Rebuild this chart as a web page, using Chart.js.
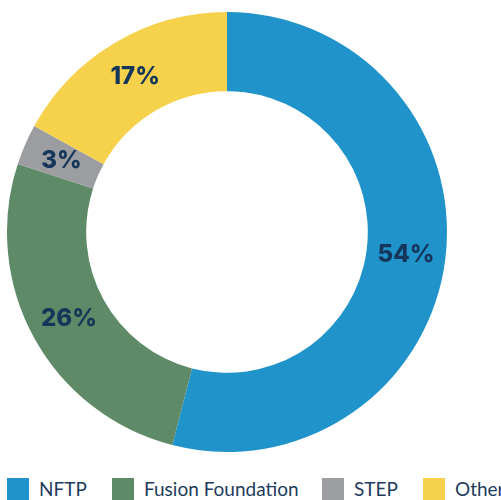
<!DOCTYPE html>
<html>
<head>
<meta charset="utf-8">
<script src="https://cdn.jsdelivr.net/npm/chart.js@4"></script>
<style>
    html, body { margin: 0; padding: 0; background: #fff; overflow: hidden; }
    #wrap { position: relative; width: 501px; height: 500px; }
    #chart-box { position: absolute; left: 0; top: 0; width: 501px; height: 464px; }
    #legend { position: absolute; left: 7px; top: 478px; white-space: nowrap;
              font-family: Lato, sans-serif; font-size: 19px; color: #1d3b5c; }
    #legend span.item { display: inline-block; position: absolute; top: 0; }
    #legend span.box { display: inline-block; width: 22px; height: 22px; vertical-align: top; }
    #legend span.txt { position: absolute; left: 32px; top: 0; line-height: 22px; }
</style>
</head>
<body>
<div id="wrap">
    <div id="chart-box"><canvas id="chart-share"></canvas></div>
    <div id="legend"></div>
</div>
<script>
// --- Data ---
const labels = ['NFTP', 'Fusion Foundation', 'STEP', 'Other'];
const shares = [54, 26, 3, 17];
const colors = ['#2193CB', '#5E8A67', '#9C9DA1', '#F6D24C'];
const legendX = [0, 105, 315, 416]; // left offsets of legend items

// --- Percent labels inside each slice ---
const sliceLabels = {
    id: 'sliceLabels',
    afterDatasetsDraw(chart) {
        const ctx = chart.ctx;
        const meta = chart.getDatasetMeta(0);
        ctx.save();
        ctx.font = '800 24px Inter, sans-serif';
        ctx.fillStyle = '#14365A';
        ctx.textAlign = 'center';
        ctx.textBaseline = 'middle';
        meta.data.forEach((arc, i) => {
            const p = arc.tooltipPosition();
            ctx.fillText(shares[i] + '%', p.x, p.y);
        });
        ctx.restore();
    }
};

new Chart(document.getElementById('chart-share'), {
    type: 'doughnut',
    data: {
        labels,
        datasets: [{
            data: shares,
            backgroundColor: colors,
            borderWidth: 0,
        }]
    },
    options: {
        responsive: true,
        maintainAspectRatio: false,
        animation: false,
        cutout: '64%',
        layout: { padding: { left: 7, right: 54, top: 12, bottom: 12 } },
        plugins: {
            legend: { display: false },
            tooltip: { enabled: false }
        }
    },
    plugins: [sliceLabels]
});

// --- Legend (HTML, runs off the right edge like the original) ---
document.getElementById('legend').innerHTML = labels.map((l, i) => `
    <span class="item" style="left:${legendX[i]}px">
        <span class="box" style="background:${colors[i]}"></span><span class="txt">${l}</span>
    </span>`).join('');
</script>
</body>
</html>
